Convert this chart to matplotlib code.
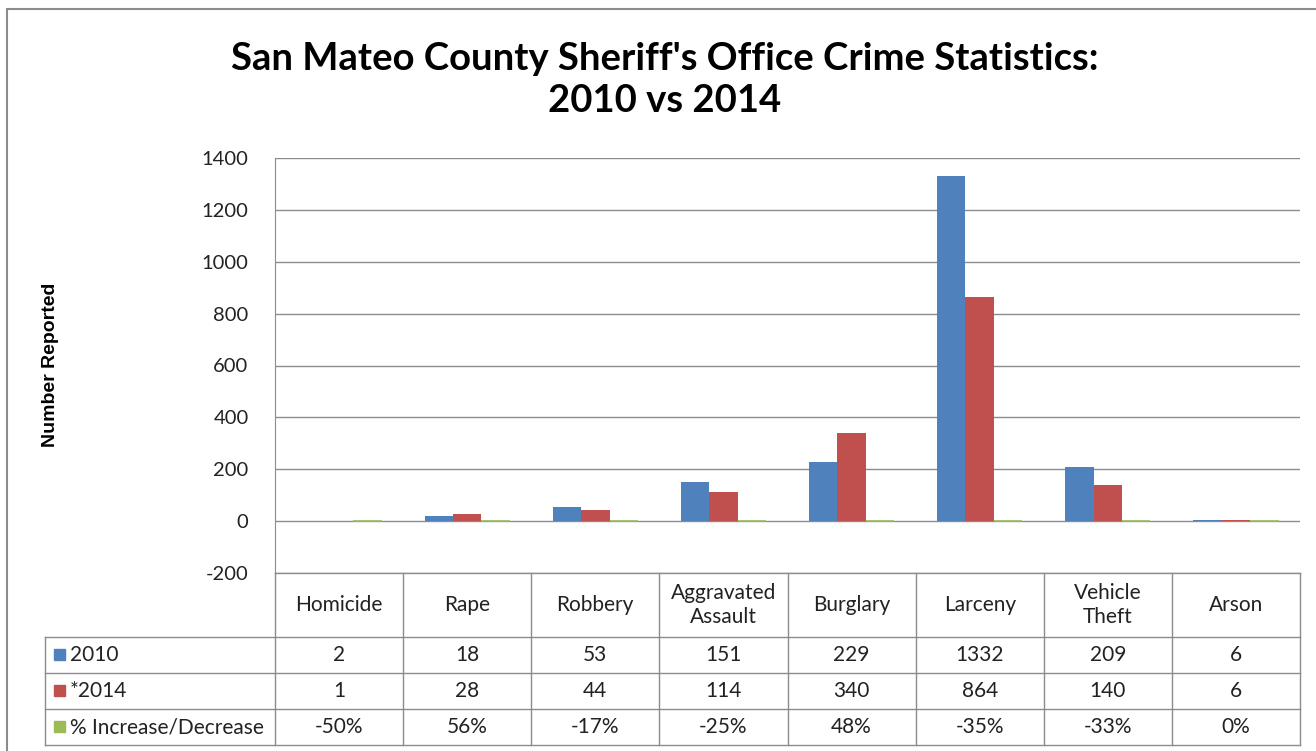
import matplotlib.pyplot as plt
from matplotlib.patches import Rectangle
import numpy as np

plt.rcParams['axes.unicode_minus'] = False

categories = ['Homicide', 'Rape', 'Robbery', 'Aggravated\nAssault', 'Burglary',
              'Larceny', 'Vehicle\nTheft', 'Arson']
series_names = ['2010', '*2014', '% Increase/Decrease']
vals_2010 = [2, 18, 53, 151, 229, 1332, 209, 6]
vals_2014 = [1, 28, 44, 114, 340, 864, 140, 6]
pct_change = [-0.50, 0.56, -0.17, -0.25, 0.48, -0.35, -0.33, 0.0]
pct_labels = ['-50%', '56%', '-17%', '-25%', '48%', '-35%', '-33%', '0%']
colors = ['#4F81BD', '#C0504D', '#9BBB59']
grid_col = '#8C8C8C'

W, H = 1316, 751
fig = plt.figure(figsize=(W / 100, H / 100), dpi=100)

def fx(px):
    return px / W

def fy(py):
    return 1 - py / H

# outer chart border
fig.patches.append(Rectangle((fx(7), fy(760)), fx(1340) - fx(7), fy(9) - fy(760),
                             transform=fig.transFigure, fill=False,
                             edgecolor='#8C8C8C', lw=1.5))

left, right, top, bottom = 275, 1300, 158, 573
ax = fig.add_axes([fx(left), fy(bottom), fx(right) - fx(left), fy(top) - fy(bottom)])

x = np.arange(len(categories))
w = 0.222
ax.bar(x - w, vals_2010, w, color=colors[0], zorder=3)
ax.bar(x, vals_2014, w, color=colors[1], zorder=3)
ax.bar(x + w, pct_change, w, color=colors[2], edgecolor=colors[2], lw=1.2, zorder=3)

ax.set_xlim(-0.5, len(categories) - 0.5)
ax.set_ylim(-200, 1400)
ax.set_yticks(np.arange(-200, 1401, 200))
ax.yaxis.grid(True, color=grid_col, lw=1, zorder=0)
ax.set_xticks([])
ax.tick_params(axis='y', length=0, pad=19, labelsize=14.5, labelcolor='#222222')
for lab in ax.get_yticklabels():
    lab.set_fontfamily(['Lato', 'DejaVu Sans'])
for s in ['top', 'right', 'bottom']:
    ax.spines[s].set_visible(False)
ax.spines['left'].set_color(grid_col)

fig.text(fx(51), fy(365), 'Number Reported', rotation=90, ha='center', va='center',
         fontsize=14, fontweight='bold', family=['Liberation Sans', 'DejaVu Sans'])

fig.text(0.505, fy(80), "San Mateo County Sheriff's Office Crime Statistics:\n2010 vs 2014",
         ha='center', va='center', fontsize=27.5, fontweight='bold',
         family=['Lato', 'DejaVu Sans'], linespacing=1.25)

# data table below the plot
row_lines = [573, 637, 673, 709, 745]
col_w = (right - left) / len(categories)
tkw = dict(transform=fig.transFigure, color=grid_col, lw=1)

fig.add_artist(plt.Line2D([fx(left), fx(right)], [fy(573), fy(573)], **tkw))
for i in range(len(categories) + 1):
    xx = left + i * col_w
    fig.add_artist(plt.Line2D([fx(xx), fx(xx)], [fy(573), fy(745)], **tkw))
leg_left = 45
fig.add_artist(plt.Line2D([fx(leg_left), fx(leg_left)], [fy(637), fy(745)], **tkw))
for ry in row_lines[1:]:
    fig.add_artist(plt.Line2D([fx(leg_left), fx(right)], [fy(ry), fy(ry)], **tkw))

tfont = dict(fontsize=15, family=['Lato', 'DejaVu Sans'], color='#222222')
for i, cat in enumerate(categories):
    cx = left + (i + 0.5) * col_w
    fig.text(fx(cx), fy(605), cat, ha='center', va='center', linespacing=1.3, **tfont)

rows = [vals_2010, vals_2014, pct_labels]
for r, (name, vals) in enumerate(zip(series_names, rows)):
    cy = (row_lines[r + 1] + row_lines[r + 2]) / 2
    fig.patches.append(Rectangle((fx(54), fy(cy + 5)), fx(11), fy(0) - fy(11),
                                 transform=fig.transFigure, color=colors[r]))
    fig.text(fx(70), fy(cy), name, ha='left', va='center', **tfont)
    for i, v in enumerate(vals):
        cx = left + (i + 0.5) * col_w
        fig.text(fx(cx), fy(cy), str(v), ha='center', va='center', **tfont)

fig.savefig('out.png', dpi=100)
